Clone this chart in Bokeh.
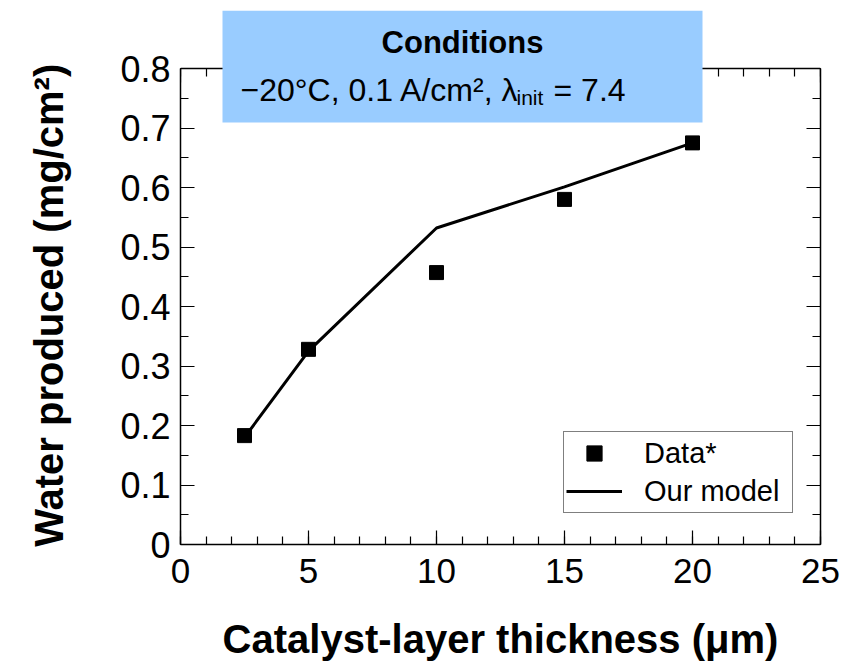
from bokeh.plotting import figure
from bokeh.models import (FixedTicker, LinearAxis, BoxAnnotation, Label, Legend,
                          LegendItem, CustomJSTickFormatter, Range1d)
from bokeh.embed import file_html
from bokeh.resources import INLINE

# ---- data ----
thickness = [2.5, 5, 10, 15, 20]
water_data = [0.183, 0.328, 0.457, 0.580, 0.675]
model_x = [2.5, 5, 10, 15, 20]
model_y = [0.180, 0.325, 0.532, 0.601, 0.675]

x_ticks = [0, 5, 10, 15, 20, 25]
x_minor = list(range(0, 26))
y_ticks = [0.0, 0.1, 0.2, 0.3, 0.4, 0.5, 0.6, 0.7, 0.8]
y_minor = [i * 0.05 for i in range(17)]
Y_MAX = 0.8

FONT = "Liberation Sans"

# geometry (px): axes box 180..820 x 68..544; frame extends up to 10 for the box
FL, FR, AT, FB, FT = 180, 820, 68, 544, 10
def dx(px):
    return (px - FL) / (FR - FL) * 25.0
def dy(py):
    return (FB - py) / (FB - AT) * Y_MAX

p = figure(width=850, height=663, x_range=Range1d(0, 25),
           y_range=Range1d(0, dy(FT)),
           output_backend="svg", toolbar_location=None,
           min_border_left=FL, min_border_right=850 - FR,
           min_border_top=FT, min_border_bottom=663 - FB,
           background_fill_color="white", border_fill_color="white")
p.xgrid.visible = False
p.ygrid.visible = False
p.outline_line_color = None

def style_axis(ax, major, minor, labels=True):
    ax.ticker = FixedTicker(ticks=major, minor_ticks=minor)
    ax.axis_line_color = "black"
    ax.axis_line_width = 1.5
    ax.major_tick_line_color = "black"
    ax.minor_tick_line_color = "black"
    ax.major_tick_line_width = 1.2
    ax.minor_tick_line_width = 1.2
    ax.major_tick_in = 14
    ax.major_tick_out = 0
    ax.minor_tick_in = 8
    ax.minor_tick_out = 0
    if not labels:
        ax.formatter = CustomJSTickFormatter(code="return '';")
        ax.major_label_standoff = 0
        ax.major_label_text_font_size = "1px"

xa = p.xaxis[0]
style_axis(xa, x_ticks, x_minor)
xa.major_label_text_font = FONT
xa.major_label_text_font_size = "35px"
xa.major_label_text_color = "black"
xa.major_label_standoff = 14
xa.axis_label = "Catalyst-layer thickness (\u03bcm)"
xa.axis_label_text_font = FONT
xa.axis_label_text_font_style = "bold"
xa.axis_label_text_font_size = "40px"
xa.axis_label_text_color = "black"
xa.axis_label_standoff = 31

ya = p.yaxis[0]
style_axis(ya, y_ticks, y_minor)
ya.bounds = (0, Y_MAX)
ya.formatter = CustomJSTickFormatter(code="return Math.abs(tick) < 1e-9 ? '0' : tick.toFixed(1);")
ya.major_label_text_font = FONT
ya.major_label_text_font_size = "36px"
ya.major_label_text_color = "black"
ya.major_label_standoff = 10
# trailing no-break spaces re-centre the label on the 0..0.8 axis box
ya.axis_label = "Water produced (mg/cm\u00b2)" + "\u00a0" * 5
ya.axis_label_text_font = FONT
ya.axis_label_text_font_style = "bold"
ya.axis_label_text_font_size = "40px"
ya.axis_label_text_color = "black"
ya.axis_label_standoff = 46

top_ax = LinearAxis(fixed_location=Y_MAX)
style_axis(top_ax, x_ticks, x_minor, labels=False)
p.add_layout(top_ax, "above")
right_ax = LinearAxis(bounds=(0, Y_MAX))
style_axis(right_ax, y_ticks, y_minor, labels=False)
p.add_layout(right_ax, "right")

# ---- marks ----
ln = p.line(model_x, model_y, line_color="black", line_width=3)
sc = p.scatter(thickness, water_data, marker="square", size=14,
               fill_color="black", line_color="black")

legend = Legend(items=[LegendItem(label="Data*", renderers=[sc]),
                       LegendItem(label="Our model", renderers=[ln])],
                location=(563 - FL, FB - 513), margin=0, padding=2, spacing=0,
                glyph_width=56, glyph_height=38, label_standoff=22, label_width=146,
                label_text_font=FONT, label_text_font_size="29px",
                label_text_color="black",
                border_line_color="black", border_line_width=1.5,
                background_fill_color="white", background_fill_alpha=1.0)
p.add_layout(legend)

# ---- conditions box ----
box = BoxAnnotation(left=dx(222), right=dx(702), top=dy(10), bottom=dy(122),
                    fill_color="#99CCFF", fill_alpha=1.0, line_alpha=0)
p.add_layout(box)

p.add_layout(Label(x=dx(462), y=dy(42), text="Conditions", text_font=FONT,
                   text_font_style="bold", text_font_size="31px", text_color="black",
                   text_align="center", text_baseline="alphabetic"))
p.add_layout(Label(x=dx(240), y=dy(89), text="\u221220\u00b0C, 0.1 A/cm\u00b2, \u03bb",
                   text_font=FONT, text_font_size="32px", text_color="black",
                   text_align="left", text_baseline="alphabetic"))
p.add_layout(Label(x=dx(516), y=dy(97), text="init",
                   text_font=FONT, text_font_size="21px", text_color="black",
                   text_align="left", text_baseline="alphabetic"))
p.add_layout(Label(x=dx(553), y=dy(89), text="= 7.4",
                   text_font=FONT, text_font_size="32px", text_color="black",
                   text_align="left", text_baseline="alphabetic"))

open("out.html", "w").write(file_html(p, INLINE))
